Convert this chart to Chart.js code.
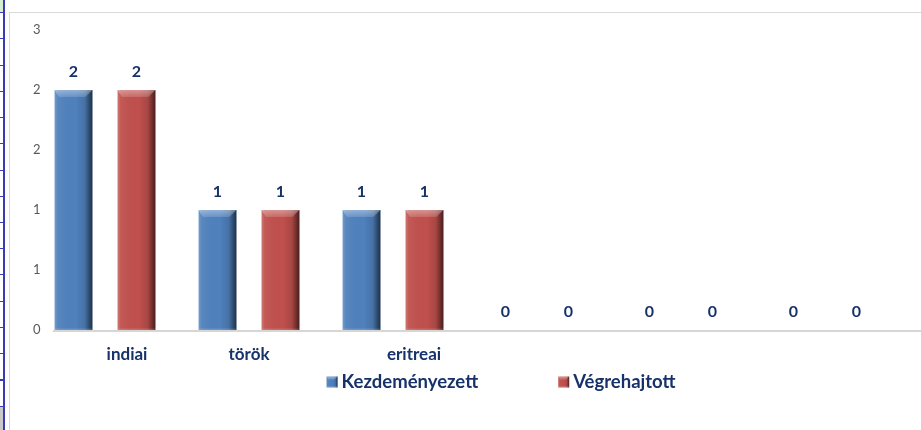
<!DOCTYPE html>
<html>
<head>
<meta charset="utf-8">
<script src="https://cdn.jsdelivr.net/npm/chart.js@4/dist/chart.umd.min.js"></script>
<style>
  html, body { margin: 0; padding: 0; background: #fff; width: 921px; height: 430px; overflow: hidden; }
  .strip { position: absolute; }
  #cellTop { left: 0; top: 0; width: 3px; height: 12px; background: #d6efd0; }
  #cellRows { left: 0; top: 12px; width: 3px; height: 395px;
    background: repeating-linear-gradient(to bottom, #3b3bb5 0, #3b3bb5 1px, transparent 1px, transparent 26.25px); }
  #cellBottom { left: 0; top: 407px; width: 3px; height: 23px; background: #c9c9c9; }
  #vline { left: 3px; top: 0; width: 2px; height: 430px; background: #3b3bb5; }
  #frame { position: absolute; left: 9px; top: 12px; width: 990px; height: 430px;
    border-left: 1px solid #d9d9d9; border-top: 1px solid #d9d9d9; }
  #chart { position: absolute; left: 0; top: 0; }
</style>
</head>
<body>
<div class="strip" id="cellTop"></div>
<div class="strip" id="cellRows"></div>
<div class="strip" id="cellBottom"></div>
<div class="strip" id="vline"></div>
<div id="frame"><canvas id="chart" width="982" height="417"></canvas></div>
<script>
// Nationality categories and the two series of proceedings
const categories = ['indiai', 'török', 'eritreai', '', '', ''];
const kezdemenyezett = [2, 1, 1, 0, 0, 0];
const vegrehajtott = [2, 1, 1, 0, 0, 0];
const seriesNames = ['Kezdeményezett', 'Végrehajtott'];
const seriesColors = ['#4f81bd', '#c0504d'];
const yTickLabels = ['0', '1', '1', '2', '2', '3'];

const NAVY = '#17326a';
const FONT = 'Lato, "Open Sans", sans-serif';

// Horizontal nudge of each category caption relative to its bar pair
const captionShift = [22, 0, 21, 0, 0, 0];

// Floor line of the value axis, running off to the right edge
const floorLine = {
  id: 'floorLine',
  beforeDatasetsDraw(chart) {
    const { ctx, chartArea, scales } = chart;
    const y0 = Math.round(scales.y.getPixelForValue(0));
    ctx.save();
    ctx.strokeStyle = '#d6d6d6';
    ctx.lineWidth = 2;
    ctx.beginPath();
    ctx.moveTo(chartArea.left + 20, y0 + 1);
    ctx.lineTo(chart.width, y0 + 1);
    ctx.stroke();
    ctx.restore();
  }
};

function bevel(ctx, l, t, w, h, bv) {
  const r = l + w, b = t + h;
  // side shading: light left edge, dark right band
  const g = ctx.createLinearGradient(l, 0, r, 0);
  g.addColorStop(0, 'rgba(255,255,255,0.22)');
  g.addColorStop(0.08, 'rgba(255,255,255,0.06)');
  g.addColorStop(0.55, 'rgba(0,0,0,0)');
  g.addColorStop(0.8, 'rgba(0,0,0,0.12)');
  g.addColorStop(0.9, 'rgba(0,0,0,0.38)');
  g.addColorStop(1, 'rgba(0,0,0,0.62)');
  ctx.fillStyle = g;
  ctx.fillRect(l, t, w, h);
  // top bevel
  const tg = ctx.createLinearGradient(0, t, 0, t + bv);
  tg.addColorStop(0, 'rgba(255,255,255,0.38)');
  tg.addColorStop(1, 'rgba(255,255,255,0.14)');
  ctx.fillStyle = tg;
  ctx.beginPath();
  ctx.moveTo(l, t);
  ctx.lineTo(r, t);
  ctx.lineTo(r - bv, t + bv);
  ctx.lineTo(l + bv * 0.6, t + bv);
  ctx.closePath();
  ctx.fill();
  // bottom lip
  ctx.fillStyle = 'rgba(255,255,255,0.15)';
  ctx.fillRect(l, b - 1.5, w, 1.5);
}

// Bevelled look on top of each drawn column
const columnBevel = {
  id: 'columnBevel',
  afterDatasetsDraw(chart) {
    const { ctx } = chart;
    ctx.save();
    chart.data.datasets.forEach((ds, i) => {
      chart.getDatasetMeta(i).data.forEach(bar => {
        const p = bar.getProps(['x', 'y', 'base', 'width'], true);
        const h = p.base - p.y;
        if (h < 2) return;
        bevel(ctx, p.x - p.width / 2, p.y, p.width, h, 7);
      });
    });
    ctx.restore();
  }
};

// Value captions above every column
const valueCaptions = {
  id: 'valueCaptions',
  afterDatasetsDraw(chart) {
    const { ctx } = chart;
    ctx.save();
    ctx.font = 'bold 16px ' + FONT;
    ctx.fillStyle = NAVY;
    ctx.textAlign = 'center';
    ctx.textBaseline = 'middle';
    chart.data.datasets.forEach((ds, i) => {
      chart.getDatasetMeta(i).data.forEach((bar, j) => {
        const p = bar.getProps(['x', 'y'], true);
        ctx.fillText(String(ds.data[j]), p.x, p.y - 18);
      });
    });
    ctx.restore();
  }
};

// Category captions under the floor line
const categoryCaptions = {
  id: 'categoryCaptions',
  afterDraw(chart) {
    const { ctx, scales } = chart;
    const y = scales.y.getPixelForValue(0) + 25;
    ctx.save();
    ctx.font = 'bold 17px ' + FONT;
    ctx.fillStyle = NAVY;
    ctx.textAlign = 'center';
    ctx.textBaseline = 'middle';
    chart.data.labels.forEach((lab, i) => {
      if (!lab) return;
      ctx.fillText(lab, scales.x.getPixelForValue(i) + captionShift[i], y);
    });
    ctx.restore();
  }
};

// Legend row with bevelled swatches
const swatchLegend = {
  id: 'swatchLegend',
  afterDraw(chart) {
    const { ctx } = chart;
    const box = 11, gapText = 4, gapItems = 80;
    const y = chart.scales.y.getPixelForValue(0) + 52;
    ctx.save();
    ctx.font = 'bold 18.5px ' + FONT;
    const items = chart.data.datasets.map(ds => ({ label: ds.label, color: ds.backgroundColor, w: ctx.measureText(ds.label).width }));
    const total = items.reduce((s, it) => s + box + gapText + it.w, 0) + gapItems * (items.length - 1);
    let x = chart.width / 2 - total / 2;
    ctx.textBaseline = 'middle';
    ctx.textAlign = 'left';
    items.forEach(it => {
      ctx.fillStyle = it.color;
      ctx.fillRect(x, y - box / 2, box, box);
      bevel(ctx, x, y - box / 2, box, box, 3);
      ctx.fillStyle = NAVY;
      ctx.fillText(it.label, x + box + gapText, y);
      x += box + gapText + it.w + gapItems;
    });
    ctx.restore();
  }
};

new Chart(document.getElementById('chart'), {
  type: 'bar',
  data: {
    labels: categories,
    datasets: [
      { label: seriesNames[0], data: kezdemenyezett, backgroundColor: seriesColors[0] },
      { label: seriesNames[1], data: vegrehajtott, backgroundColor: seriesColors[1] }
    ]
  },
  options: {
    responsive: false,
    animation: false,
    devicePixelRatio: 1,
    categoryPercentage: 0.875,
    barPercentage: 0.6,
    layout: { padding: { left: 23, right: 95, top: 17, bottom: 100 } },
    plugins: { legend: { display: false }, tooltip: { enabled: false } },
    scales: {
      x: { display: false },
      y: {
        min: 0, max: 2.5,
        grid: { display: false, drawTicks: false },
        border: { display: false },
        ticks: {
          stepSize: 0.5,
          mirror: true,
          padding: 0,
          color: '#595959',
          font: { family: FONT, size: 13 },
          callback: (v, i) => yTickLabels[i]
        }
      }
    }
  },
  plugins: [floorLine, columnBevel, valueCaptions, categoryCaptions, swatchLegend]
});
</script>
</body>
</html>
